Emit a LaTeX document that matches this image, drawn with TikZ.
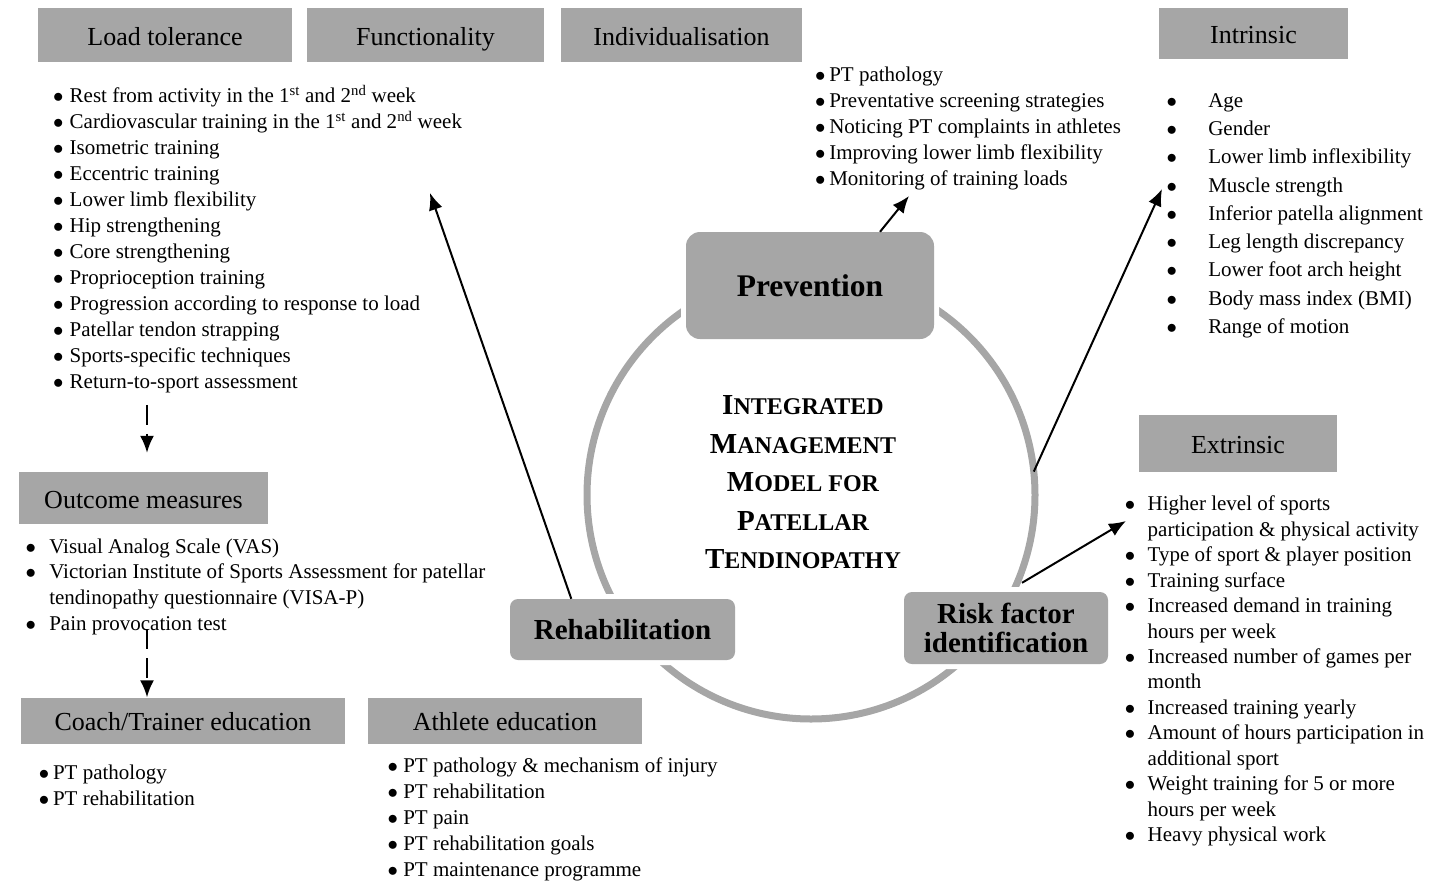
\documentclass[tikz,border=0pt]{standalone}
\usepackage{fontspec}
\setmainfont{Liberation Serif}
\usetikzlibrary{arrows.meta,positioning}
\definecolor{boxgray}{RGB}{166,166,166}
\tikzstyle{header}=[rectangle,fill=boxgray,inner sep=0pt,text height=20pt,text depth=0pt,font=\fontsize{26}{30}\selectfont]
\tikzstyle{phase}=[rectangle,rounded corners=8pt,fill=boxgray,preaction={draw=white,line width=10pt},inner sep=0pt,align=center,font=\bfseries\fontsize{29}{29}\selectfont]
\tikzstyle{itemlist}=[anchor=north west,inner sep=0pt,outer sep=0pt,font=\fontsize{21}{26}\selectfont]
\tikzstyle{link}=[-{Latex[length=17pt,width=14pt]},line width=2pt]
\tikzstyle{dashlink}=[link,dash pattern=on 20pt off 9pt]
\newlength{\bulsep}
\newcommand{\bl}{\llap{\makebox[0pt]{$\bullet$}\hspace{\bulsep}}}
\newcommand{\bigsc}[2]{{\fontsize{29}{38.5}\selectfont #1}{\fontsize{24}{38.5}\selectfont #2}}

\begin{document}
\begin{tikzpicture}[x=1pt,y=-1pt]
	\useasboundingbox (0,0) rectangle (1442,884);

	\node[header,minimum width=254pt,minimum height=54pt] (load) at (165,35) {Load tolerance};
	\node[header,minimum width=237pt,minimum height=54pt] (func) at (425.5,35) {Functionality};
	\node[header,minimum width=241pt,minimum height=54pt] (indiv) at (681.5,35) {Individualisation};
	\node[header,minimum width=189pt,minimum height=51pt] (intr) at (1253.5,33.5) {Intrinsic};
	\node[header,minimum width=198pt,minimum height=57pt] (extr) at (1238,443) {Extrinsic};
	\node[header,minimum width=249pt,minimum height=52pt] (outc) at (143.5,498) {Outcome measures};
	\node[header,minimum width=324pt,minimum height=46pt] (coach) at (183,720.5) {Coach/Trainer education};
	\node[header,minimum width=274pt,minimum height=46pt] (athl) at (505,720.5) {Athlete education};

	\node[circle,draw=boxgray,line width=7pt,minimum size=448pt,inner sep=0pt,outer sep=0pt] (ring) at (811,495) {};

	\node[phase,minimum width=248pt,minimum height=107pt,rounded corners=14pt,font=\bfseries\fontsize{31.5}{32}\selectfont] (prev) at (810,285.5) {Prevention};
	\node[phase,minimum width=225pt,minimum height=61pt] (rehab) at (622.5,629.5) {Rehabilitation};
	\node[phase,minimum width=204pt,minimum height=72pt] (risk) at (1006,628) {Risk factor\\identification};

	\node[align=center,font=\bfseries\fontsize{24}{38.5}\selectfont] (title) at (803,482.5)
		{\bigsc{I}{NTEGRATED}\\ \bigsc{M}{ANAGEMENT}\\ \bigsc{M}{ODEL FOR}\\ \bigsc{P}{ATELLAR}\\ \bigsc{T}{ENDINOPATHY}};

	\node[itemlist] (loadlist) at (69.7,84.5) {\setlength{\bulsep}{11.4pt}\begin{tabular}{@{}l@{}}
		\bl Rest from activity in the 1\textsuperscript{st} and 2\textsuperscript{nd} week\\
		\bl Cardiovascular training in the 1\textsuperscript{st} and 2\textsuperscript{nd} week\\
		\bl Isometric training\\
		\bl Eccentric training\\
		\bl Lower limb flexibility\\
		\bl Hip strengthening\\
		\bl Core strengthening\\
		\bl Proprioception training\\
		\bl Progression according to response to load\\
		\bl Patellar tendon strapping\\
		\bl Sports-specific techniques\\
		\bl Return-to-sport assessment
	\end{tabular}};
	\node[itemlist] (prevlist) at (829.3,63.5) {\setlength{\bulsep}{9pt}\begin{tabular}{@{}l@{}}
		\bl PT pathology\\
		\bl Preventative screening strategies\\
		\bl Noticing PT complaints in athletes\\
		\bl Improving lower limb flexibility\\
		\bl Monitoring of training loads
	\end{tabular}};
	\node[itemlist,font=\fontsize{21}{28.25}\selectfont] (intrlist) at (1208.3,87.5) {\setlength{\bulsep}{36.6pt}\begin{tabular}{@{}l@{}}
		\bl Age\\
		\bl Gender\\
		\bl Lower limb inflexibility\\
		\bl Muscle strength\\
		\bl Inferior patella alignment\\
		\bl Leg length discrepancy\\
		\bl Lower foot arch height\\
		\bl Body mass index (BMI)\\
		\bl Range of motion
	\end{tabular}};
	\node[itemlist,font=\fontsize{21}{25.46}\selectfont] (extrlist) at (1147.7,492.9) {\setlength{\bulsep}{17.7pt}\begin{tabular}{@{}l@{}}
		\bl Higher level of sports\\
		participation \& physical activity\\
		\bl Type of sport \& player position\\
		\bl Training surface\\
		\bl Increased demand in training\\
		hours per week\\
		\bl Increased number of games per\\
		month\\
		\bl Increased training yearly\\
		\bl Amount of hours participation in\\
		additional sport\\
		\bl Weight training for 5 or more\\
		hours per week\\
		\bl Heavy physical work
	\end{tabular}};
	\node[itemlist,font=\fontsize{21}{25.8}\selectfont] (outclist) at (49.3,535.1) {\setlength{\bulsep}{18.6pt}\begin{tabular}{@{}l@{}}
		\bl Visual Analog Scale (VAS)\\
		\bl Victorian Institute of Sports Assessment for patellar\\
		tendinopathy questionnaire (VISA-P)\\
		\bl Pain provocation test
	\end{tabular}};
	\node[itemlist] (coachlist) at (53,760.8) {\setlength{\bulsep}{9pt}\begin{tabular}{@{}l@{}}
		\bl PT pathology\\
		\bl PT rehabilitation
	\end{tabular}};
	\node[itemlist] (athllist) at (403.3,753.8) {\setlength{\bulsep}{10.5pt}\begin{tabular}{@{}l@{}}
		\bl PT pathology \& mechanism of injury\\
		\bl PT rehabilitation\\
		\bl PT pain\\
		\bl PT rehabilitation goals\\
		\bl PT maintenance programme
	\end{tabular}};

	\coordinate (tipload) at (430,193);
	\coordinate (tipprev) at (909,196);
	\coordinate (tipintr) at (1162,189);
	\coordinate (tipextr) at (1126,521);

	\draw[link] ([shift={(61.5,0)}]rehab.north west) -- (tipload);
	\draw[link] ([shift={(70,0)}]prev.north) -- (tipprev);
	\draw[link] (ring.6) -- (tipintr);
	\draw[link] ([shift={(16,-9)}]risk.north) -- (tipextr);
	\draw[dashlink] ([shift={(3.5,-67)}]outc.north) -- ([shift={(3.5,-19)}]outc.north);
	\draw[dashlink] ([shift={(-36,-68)}]coach.north) -- ([xshift=-36pt]coach.north);
\end{tikzpicture}
\end{document}
